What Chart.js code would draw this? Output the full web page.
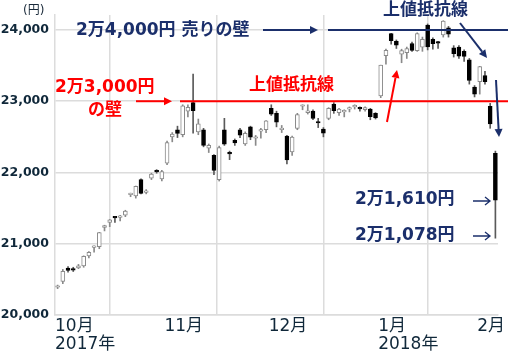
<!DOCTYPE html>
<html lang="ja">
<head>
<meta charset="utf-8">
<title>日経平均 2017年10月〜2018年2月</title>
<script src="https://cdn.jsdelivr.net/npm/chart.js@4.4.1/dist/chart.umd.min.js"></script>
<style>
  html, body { margin: 0; padding: 0; background: #fff; }
  #wrap { width: 514px; height: 357px; }
</style>
</head>
<body>
<div id="wrap"><canvas id="chart"></canvas></div>
<script>
// trading days, one candle each
const days = [
  '2017-10-02','2017-10-03','2017-10-04','2017-10-05','2017-10-06','2017-10-10','2017-10-11','2017-10-12','2017-10-13',
  '2017-10-16','2017-10-17','2017-10-18','2017-10-19','2017-10-20','2017-10-23','2017-10-24','2017-10-25','2017-10-26',
  '2017-10-27','2017-10-30','2017-10-31',
  '2017-11-01','2017-11-02','2017-11-06','2017-11-07','2017-11-08','2017-11-09','2017-11-10','2017-11-13','2017-11-14',
  '2017-11-15','2017-11-16','2017-11-17','2017-11-20','2017-11-21','2017-11-22','2017-11-24','2017-11-27','2017-11-28',
  '2017-11-29','2017-11-30',
  '2017-12-01','2017-12-04','2017-12-05','2017-12-06','2017-12-07','2017-12-08','2017-12-11','2017-12-12','2017-12-13',
  '2017-12-14','2017-12-15','2017-12-18','2017-12-19','2017-12-20','2017-12-21','2017-12-22','2017-12-25','2017-12-26',
  '2017-12-27','2017-12-28','2017-12-29',
  '2018-01-04','2018-01-05','2018-01-09','2018-01-10','2018-01-11','2018-01-12','2018-01-15','2018-01-16','2018-01-17',
  '2018-01-18','2018-01-19','2018-01-22','2018-01-23','2018-01-24','2018-01-25','2018-01-26','2018-01-29','2018-01-30',
  '2018-01-31',
  '2018-02-01','2018-02-02','2018-02-05','2018-02-06'
];

const opens = [
  20390, 20470, 20660, 20650, 20660, 20690, 20830, 20950, 20960,
  21230, 21300, 21370, 21370, 21400, 21690, 21670, 21900, 21720,
  21920, 22030, 21910,
  22130, 22500, 22600, 22530, 22860, 22980, 22570, 22600, 22340,
  22240, 21900, 22600, 22280, 22450, 22600, 22400, 22640, 22480,
  22580, 22600,
  22900, 22830, 22600, 22510, 22290, 22620, 22930, 22840, 22860,
  22700, 22610, 22760, 22960, 22840, 22850, 22890, 22920, 22900,
  22880, 22890, 22830,
  23073, 23640, 23950, 23840, 23660, 23680, 23810, 23710, 23760,
  24070, 23870, 23830, 23930, 24030, 23750, 23760, 23700, 23580,
  23200,
  23276, 23360, 22930, 22270
];
const highs = [
  20420, 20640, 20680, 20670, 20710, 20830, 20890, 20970, 21160,
  21260, 21340, 21380, 21400, 21470, 21710, 21810, 21910, 21760,
  21990, 22040, 22030,
  22440, 22560, 22650, 22950, 22950, 23382, 22750, 22620, 22400,
  22250, 22370, 22760, 22300, 22470, 22620, 22570, 22650, 22520,
  22620, 22730,
  22950, 22860, 22660, 22520, 22510, 22830, 22950, 22950, 22880,
  22760, 22630, 22910, 22980, 22900, 22880, 22920, 22950, 22920,
  22920, 22900, 22840,
  23506, 23730, 23952, 23860, 23730, 23760, 23830, 23960, 23900,
  24084, 23890, 23840, 24130, 24050, 23780, 23780, 23720, 23600,
  23220,
  23490, 23420, 22970, 22300
];
const lows = [
  20370, 20440, 20600, 20610, 20650, 20670, 20800, 20880, 20930,
  21180, 21240, 21300, 21320, 21380, 21660, 21640, 21700, 21700,
  21900, 21990, 21880,
  22110, 22430, 22490, 22500, 22780, 22550, 22530, 22360, 22280,
  21970, 21880, 22380, 22180, 22380, 22490, 22380, 22460, 22380,
  22480, 22560,
  22800, 22640, 22560, 22120, 22240, 22600, 22880, 22820, 22740,
  22630, 22500, 22740, 22830, 22800, 22780, 22850, 22890, 22860,
  22860, 22740, 22750,
  23050, 23520, 23800, 23740, 23540, 23600, 23700, 23700, 23700,
  23720, 23730, 23740, 23900, 23900, 23620, 23600, 23560, 23240,
  23060,
  23100, 23240, 22620, 21078
];
const closes = [
  20400, 20614, 20626, 20628, 20690, 20823, 20881, 20954, 21155,
  21255, 21336, 21363, 21372, 21457, 21696, 21805, 21707, 21739,
  21977, 22008, 22011,
  22420, 22539, 22548, 22937, 22914, 22869, 22681, 22381, 22380,
  22028, 22351, 22397, 22262, 22416, 22523, 22551, 22496, 22486,
  22597, 22725,
  22819, 22707, 22622, 22177, 22498, 22811, 22938, 22866, 22758,
  22694, 22553, 22901, 22868, 22891, 22866, 22902, 22939, 22892,
  22911, 22783, 22764,
  23506, 23714, 23849, 23788, 23710, 23740, 23714, 23951, 23868,
  23763, 23808, 23816, 24124, 23940, 23669, 23631, 23629, 23291,
  23098,
  23486, 23274, 22682, 21610
];

const yTicks = [20000, 21000, 22000, 23000, 24000];

// first trading day of every month -> x grid line + label
const monthStarts = [];
days.forEach((d, i) => {
  if (i === 0 || d.slice(5, 7) !== days[i - 1].slice(5, 7)) monthStarts.push(i);
});
const monthLabel = (i, k) => {
  const y = days[i].slice(0, 4), m = parseInt(days[i].slice(5, 7), 10);
  return (k === 0 || m === 1) ? [m + '月', y + '年'] : m + '月';
};

const isUp = days.map((d, i) => closes[i] >= opens[i]);

const NAVY = '#1b2f6b';
const RED = '#ff0000';
const GRID = '#dcdcdc';

function arrow(ctx, x1, y1, x2, y2, color) {
  const a = Math.atan2(y2 - y1, x2 - x1);
  const head = 8, wide = 4;
  ctx.save();
  ctx.strokeStyle = color;
  ctx.fillStyle = color;
  ctx.lineWidth = 2;
  ctx.beginPath();
  ctx.moveTo(x1, y1);
  ctx.lineTo(x2 - Math.cos(a) * head, y2 - Math.sin(a) * head);
  ctx.stroke();
  ctx.beginPath();
  ctx.moveTo(x2, y2);
  ctx.lineTo(x2 - Math.cos(a) * head - Math.sin(a) * wide, y2 - Math.sin(a) * head + Math.cos(a) * wide);
  ctx.lineTo(x2 - Math.cos(a) * head + Math.sin(a) * wide, y2 - Math.sin(a) * head - Math.cos(a) * wide);
  ctx.closePath();
  ctx.fill();
  ctx.restore();
}

// thin "→" pointer next to the price notes
function pointer(ctx, x, y, color) {
  ctx.save();
  ctx.strokeStyle = color;
  ctx.lineWidth = 1.3;
  ctx.beginPath();
  ctx.moveTo(x, y); ctx.lineTo(x + 17, y);
  ctx.moveTo(x + 12, y - 4); ctx.lineTo(x + 17, y); ctx.lineTo(x + 12, y + 4);
  ctx.stroke();
  ctx.restore();
}

const notes = {
  id: 'notes',
  afterDatasetsDraw(chart) {
    const ctx = chart.ctx;
    const y = chart.scales.y;
    const y23 = y.getPixelForValue(23000);
    const y24 = y.getPixelForValue(24000);
    const bold = 'bold 17px "DejaVu Sans", "Noto Sans CJK JP", sans-serif';

    ctx.save();
    // resistance lines
    ctx.lineWidth = 2;
    ctx.strokeStyle = RED;
    ctx.beginPath(); ctx.moveTo(180, y23); ctx.lineTo(508, y23); ctx.stroke();
    ctx.strokeStyle = NAVY;
    ctx.beginPath(); ctx.moveTo(328, y24); ctx.lineTo(508, y24); ctx.stroke();

    ctx.textBaseline = 'middle';
    ctx.textAlign = 'left';

    ctx.font = '12px "DejaVu Sans", "Noto Sans CJK JP", sans-serif';
    ctx.fillStyle = '#1a2a3a';
    ctx.fillText('(円)', 23, 11);

    ctx.font = bold;
    ctx.fillStyle = NAVY;
    ctx.fillText('2万4,000円 売りの壁', 76, y24 + 1);
    ctx.fillText('上値抵抗線', 383, 11);
    ctx.fillText('2万1,610円', 355, 200);
    ctx.fillText('2万1,078円', 355, 236);

    ctx.fillStyle = RED;
    ctx.fillText('2万3,000円', 55, 88);
    ctx.fillText('の壁', 88, 111);
    ctx.fillText('上値抵抗線', 249, 86);
    ctx.restore();

    pointer(ctx, 473, 201, NAVY);
    pointer(ctx, 473, 236, NAVY);
    arrow(ctx, 263, y24, 318, y24, NAVY);
    arrow(ctx, 460, 23, 487, 58, NAVY);
    arrow(ctx, 496, 80, 499, 137, NAVY);
    arrow(ctx, 136, y23, 172, y23, RED);
    arrow(ctx, 387, 122, 397, 70, RED);
  }
};

const ctx = document.getElementById('chart').getContext('2d');
new Chart(ctx, {
  type: 'bar',
  data: {
    datasets: [
      {
        label: 'body',
        data: days.map((d, i) => ({ x: i + 0.5, y: [opens[i], closes[i]] })),
        backgroundColor: isUp.map(u => u ? '#ffffff' : '#000000'),
        borderColor: isUp.map(u => u ? '#8a8a8a' : '#000000'),
        borderWidth: 1,
        borderSkipped: false,
        barThickness: 4,
        minBarLength: 1.5,
        grouped: false,
        order: 0
      },
      {
        label: 'wick',
        data: days.map((d, i) => ({ x: i + 0.5, y: [lows[i], highs[i]] })),
        backgroundColor: isUp.map(u => u ? '#8a8a8a' : '#5a5a5a'),
        borderWidth: 0,
        barThickness: 1,
        grouped: false,
        order: 1
      }
    ]
  },
  options: {
    responsive: true,
    maintainAspectRatio: false,
    animation: false,
    layout: { padding: { top: 15, right: 16, left: 0, bottom: 0 } },
    plugins: { legend: { display: false }, tooltip: { enabled: false } },
    scales: {
      x: {
        type: 'linear',
        min: 0,
        max: days.length,
        offset: false,
        afterBuildTicks: s => { s.ticks = monthStarts.map(v => ({ value: v })); },
        afterFit: s => { s.height = 42; },
        ticks: {
          autoSkip: false,
          maxRotation: 0,
          align: 'start',
          padding: 3,
          color: '#10283a',
          font: { family: '"DejaVu Sans", "Noto Sans CJK JP", sans-serif', size: 17, lineHeight: 1.05 },
          callback: (v, k) => monthLabel(v, k)
        },
        grid: { color: GRID, lineWidth: 1.5, drawTicks: false },
        border: { color: GRID, width: 1.5 }
      },
      y: {
        min: 20000,
        max: 24210,
        afterBuildTicks: s => { s.ticks = yTicks.map(v => ({ value: v })); },
        afterFit: s => { s.width = 55; },
        ticks: {
          padding: 6,
          color: '#10283a',
          font: { family: '"DejaVu Sans", sans-serif', size: 12.5, weight: 'bold' },
          callback: v => v.toLocaleString('en-US')
        },
        grid: { color: GRID, lineWidth: 1.5, drawTicks: false },
        border: { color: GRID, width: 1.5 }
      }
    }
  },
  plugins: [notes]
});
</script>
</body>
</html>
